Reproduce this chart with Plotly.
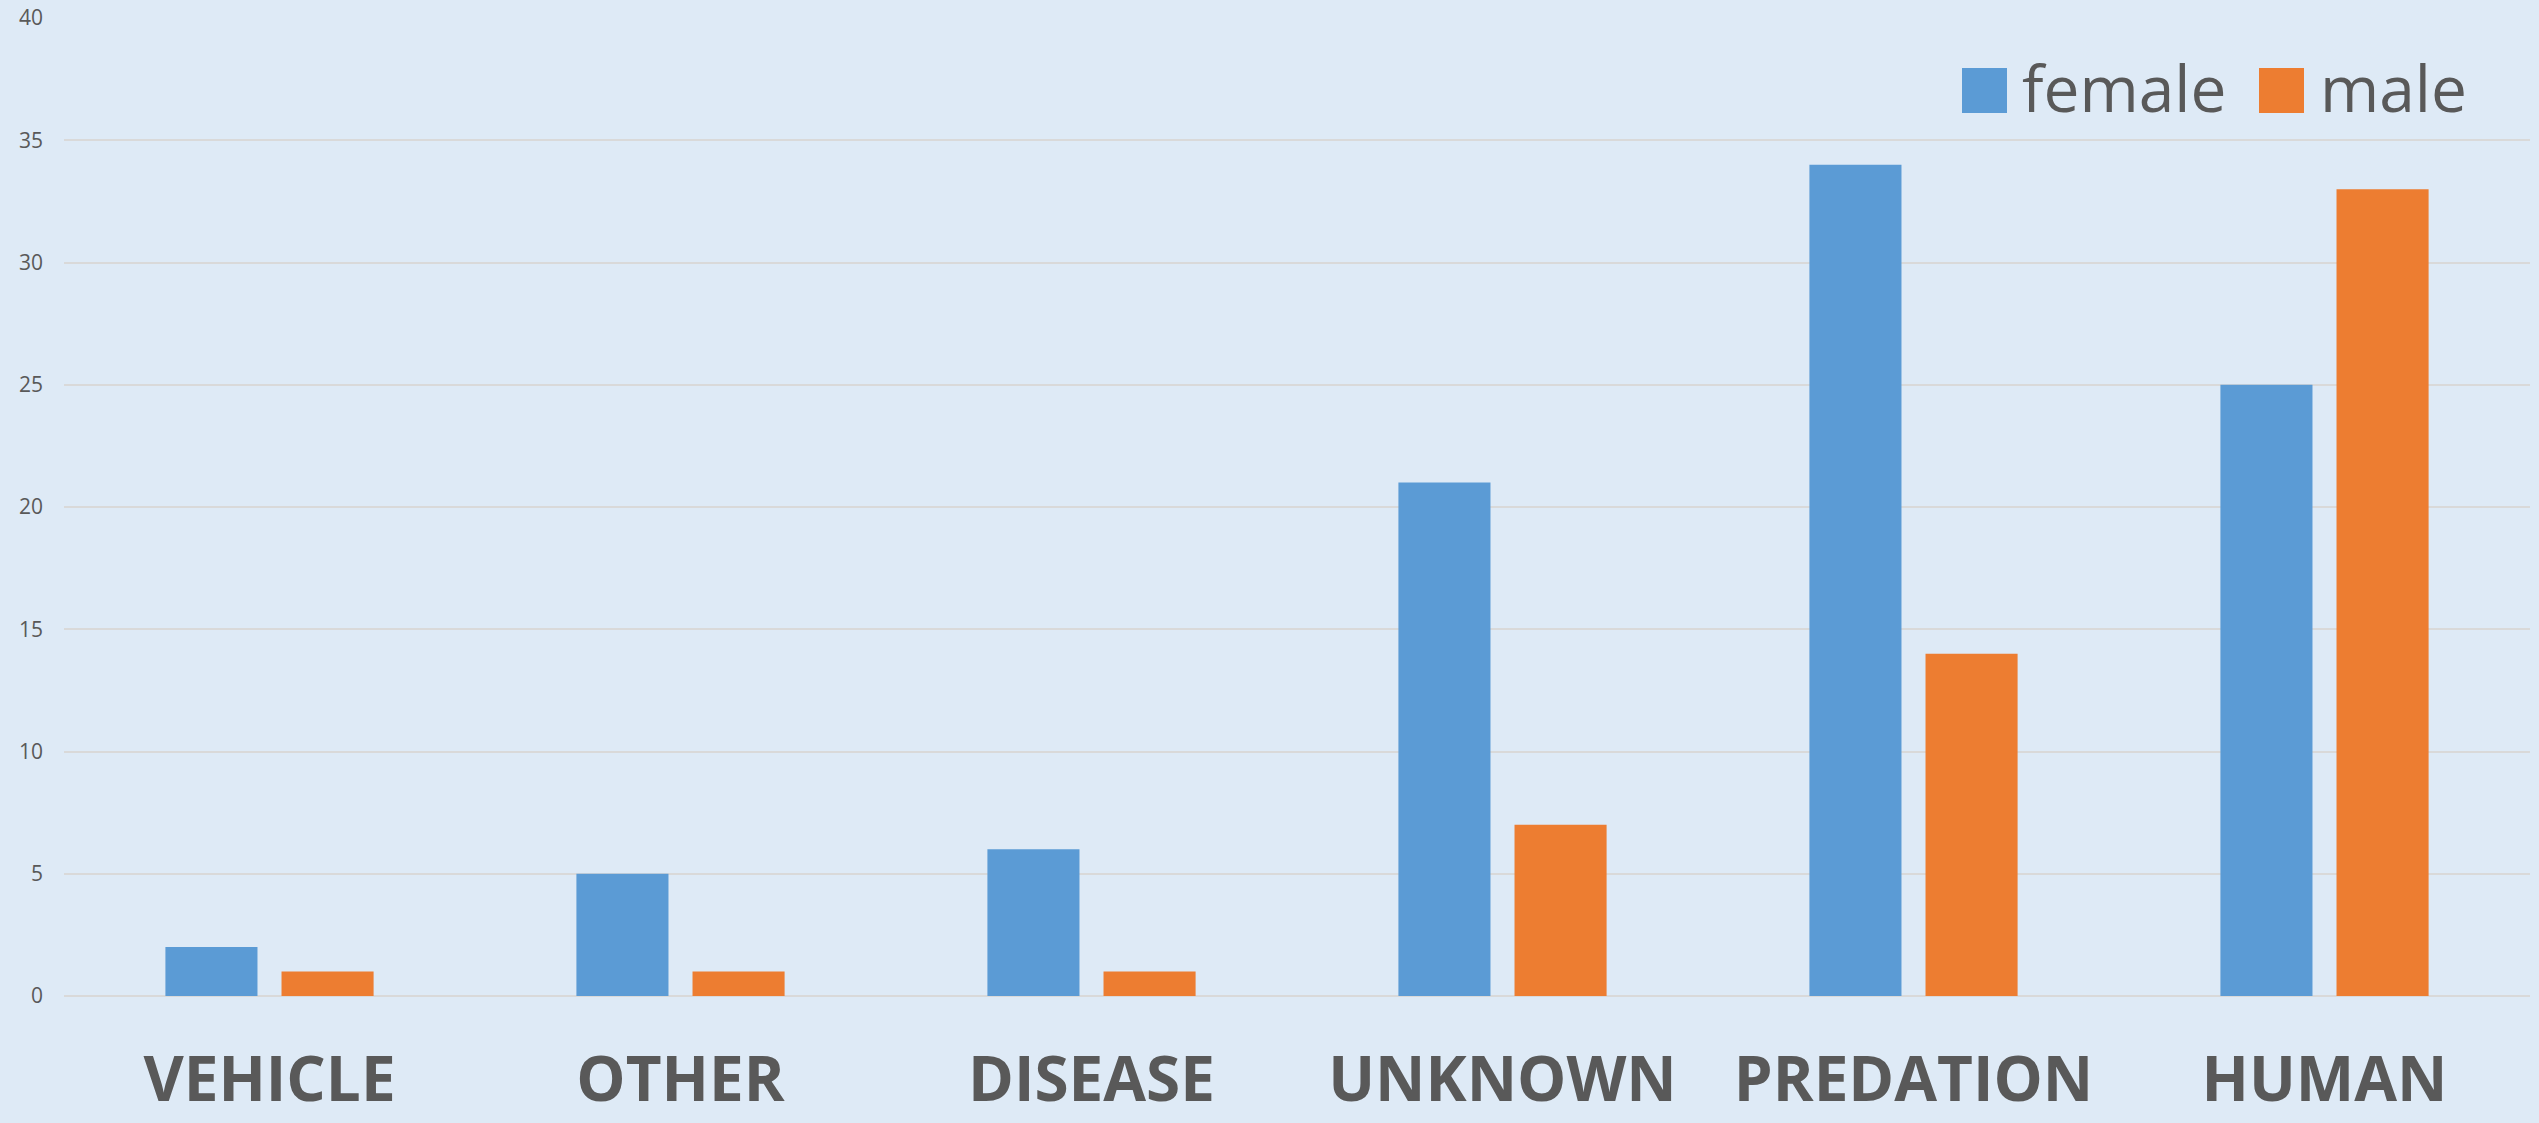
import plotly.graph_objects as go

categories = ["VEHICLE", "OTHER", "DISEASE", "UNKNOWN", "PREDATION", "HUMAN"]
female = [2, 5, 6, 21, 34, 25]
male = [1, 1, 1, 7, 14, 33]
y_ticks = [0, 5, 10, 15, 20, 25, 30, 35, 40]

BLUE = "#5B9BD5"
ORANGE = "#ED7D31"
BG = "#DEEAF6"
TXT = "#595959"
GRID = "#D9D9D9"

W, H = 2539, 1123
L, R, T, B = 64, 9, 18, 127

fig = go.Figure()
fig.add_trace(go.Bar(x=categories, y=female, name="female", marker=dict(color=BLUE, line=dict(width=0)), showlegend=False))
fig.add_trace(go.Bar(x=categories, y=male, name="male", marker=dict(color=ORANGE, line=dict(width=0)), showlegend=False))

pw = W - L - R
ph = H - T - B

def px(x):
    return (x - L) / pw

def py(y):
    return (H - B - y) / ph

shapes = [
    dict(type="rect", xref="paper", yref="paper", x0=px(1962), x1=px(2007), y0=py(113), y1=py(68),
         fillcolor=BLUE, line=dict(width=0)),
    dict(type="rect", xref="paper", yref="paper", x0=px(2259), x1=px(2304), y0=py(113), y1=py(68),
         fillcolor=ORANGE, line=dict(width=0)),
]
annotations = [
    dict(text="female", xref="paper", yref="paper", x=px(2020), y=py(88), xanchor="left", yanchor="middle",
         showarrow=False, font=dict(size=64, color=TXT, family="Open Sans")),
    dict(text="male", xref="paper", yref="paper", x=px(2318), y=py(88), xanchor="left", yanchor="middle",
         showarrow=False, font=dict(size=64, color=TXT, family="Open Sans")),
]

fig.update_layout(
    width=W, height=H,
    margin=dict(l=L, r=R, t=T, b=B, autoexpand=False),
    paper_bgcolor=BG, plot_bgcolor=BG,
    barmode="group", bargap=0.435, bargroupgap=0.207,
    font=dict(family="Open Sans", color=TXT),
    shapes=shapes, annotations=annotations,
    showlegend=False,
)
fig.update_xaxes(
    showgrid=False, showline=False, zeroline=False, ticks="", automargin=False,
    tickfont=dict(size=62, color=TXT, family="Open Sans", weight="bold"),
    ticklabelstandoff=42,
)
fig.update_yaxes(
    range=[0, 40], tickvals=y_ticks, showgrid=True, gridcolor=GRID, gridwidth=2,
    zeroline=True, zerolinecolor=GRID, zerolinewidth=2, showline=False, ticks="", automargin=False,
    tickfont=dict(size=21, color=TXT, family="Open Sans"),
    ticklabelstandoff=20,
)

fig.write_html("out.html")
